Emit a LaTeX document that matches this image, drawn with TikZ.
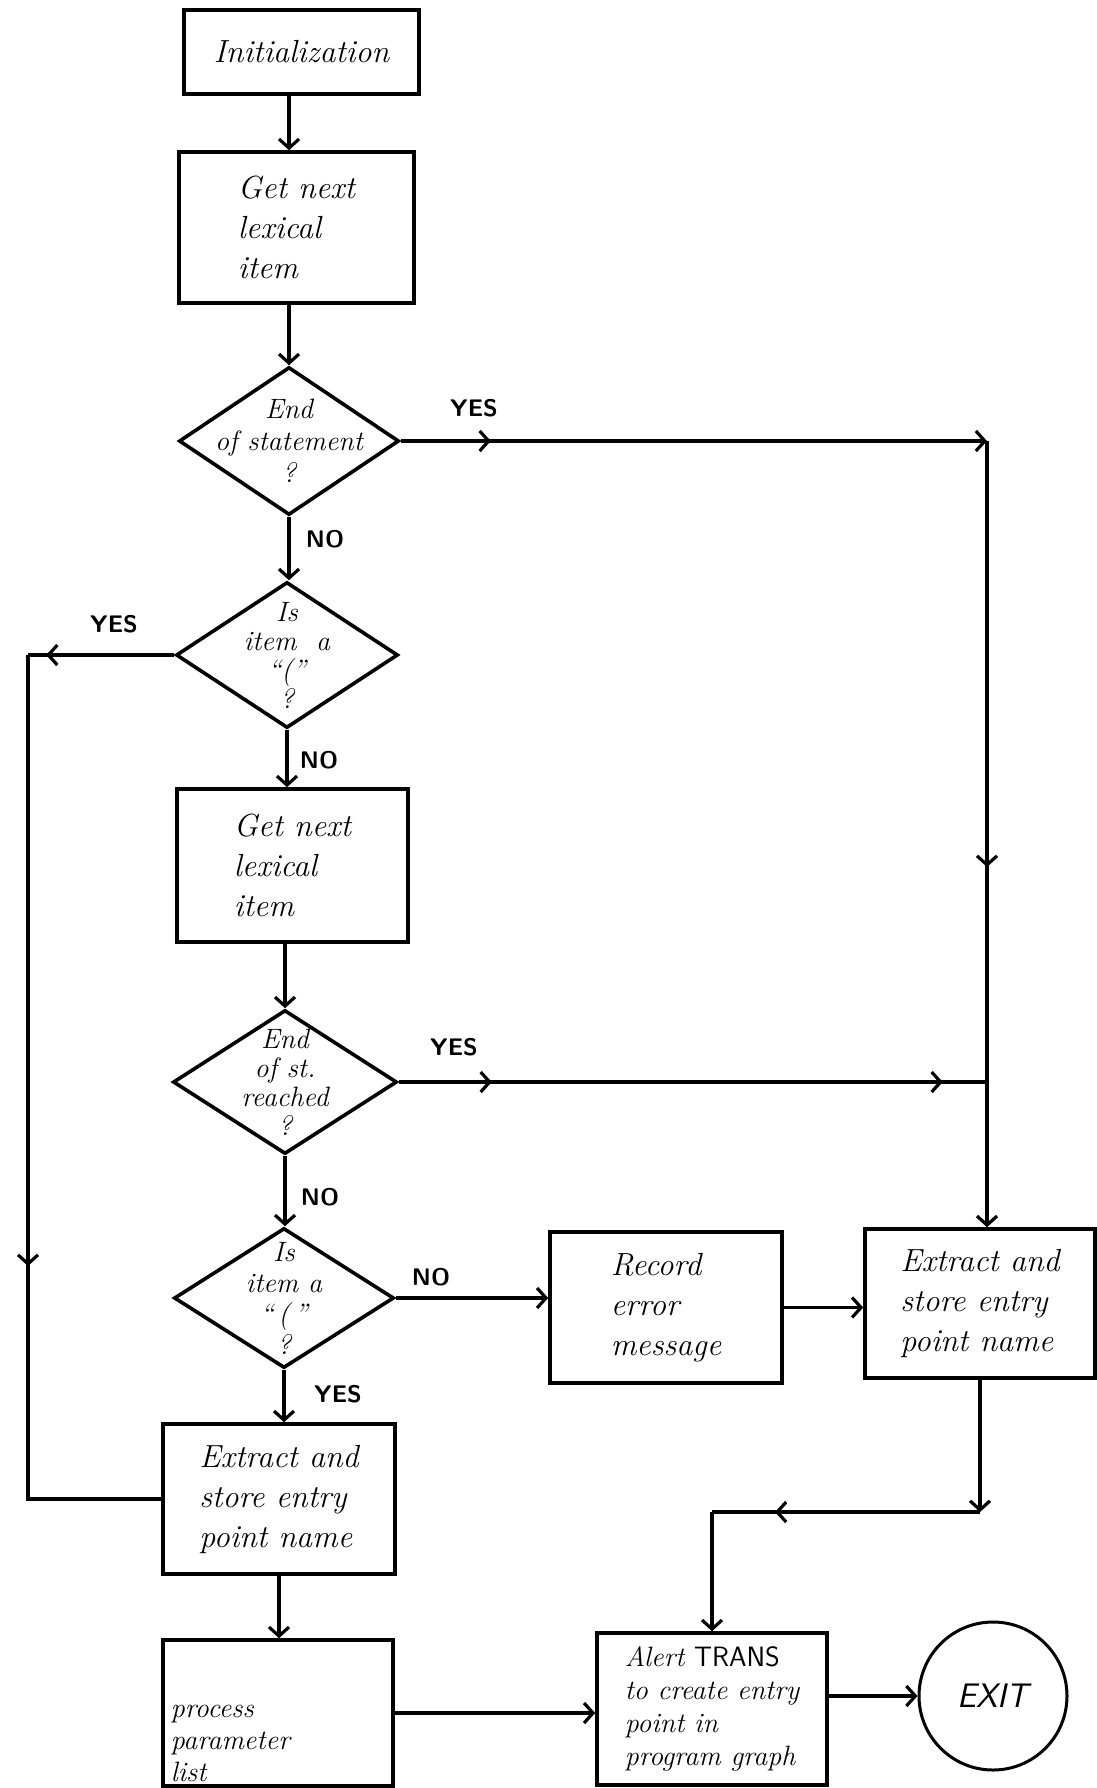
\documentclass[tikz,border=0pt]{standalone}
\usepackage{fontspec}
\usetikzlibrary{arrows.meta,decorations.markings,shapes.geometric,calc}
\begin{document}
\begin{tikzpicture}[x=1pt,y=-1pt,
  line width=3.2pt,
  >={Straight Barb[length=9pt,width=20pt]},
  box/.style={draw,rectangle,line width=3.6pt,inner sep=0pt,align=left,font=\fontsize{32}{40}\selectfont\itshape},
  dia/.style={draw,diamond,line width=3.6pt,inner sep=0pt},
  dtext/.style={align=center,font=\fontsize{28}{32}\selectfont\itshape},
  lbl/.style={font=\fontsize{24}{28}\selectfont\sffamily\bfseries},
  marks/.style={postaction={decorate},decoration={markings,#1}}
]
\useasboundingbox (0,0) rectangle (1096,1788);

% nodes
\node[box,minimum width=235pt,minimum height=84pt] (init) at (301.5,52) {Initialization};
\node[box,minimum width=235pt,minimum height=151pt] (get1) at (296.5,227.5) {Get next\\lexical\\item};
\node[dia,minimum width=220pt,minimum height=148pt] (d1) at (289,441) {};
\node[dtext] (d1t) at (d1) {End\\of statement\\?};
\node[dia,minimum width=222pt,minimum height=146pt] (d2) at (287,655) {};
\node[dtext,font=\fontsize{28}{29}\selectfont\itshape] (d2t) at (d2) {Is\\item~~a\\“(”\\?};
\node[box,minimum width=231pt,minimum height=153pt] (get2) at (292.5,865.5) {Get next\\lexical\\item};
\node[dia,minimum width=224pt,minimum height=144pt] (d3) at (285,1082) {};
\node[dtext,font=\fontsize{28}{29}\selectfont\itshape] (d3t) at (d3) {End\\of st.\\reached\\?};
\node[dia,minimum width=220pt,minimum height=140pt] (d4) at (284,1298) {};
\node[dtext,font=\fontsize{28}{31}\selectfont\itshape] (d4t) at (d4) {Is\\item a\\“\,(\,”\\?};
\node[box,minimum width=232pt,minimum height=151pt] (rec) at (666,1307.5) {Record\\error\\message};
\node[box,minimum width=230pt,minimum height=149pt] (ext2) at (980,1303.5) {Extract and\\store entry\\point name};
\node[box,minimum width=232pt,minimum height=150pt] (ext1) at (279,1499) {Extract and\\store entry\\point name};
\node[box,minimum width=230pt,minimum height=146pt] (proc) at (278,1713) {};
\node[anchor=south west,align=left,inner sep=0pt,font=\fontsize{28}{32}\selectfont\itshape] (proct) at ($(proc.south west)+(8,-4)$) {process\\parameter\\list};
\node[box,minimum width=230pt,minimum height=152pt,font=\fontsize{28}{33}\selectfont\itshape] (alert) at (712,1709) {Alert {\upshape\sffamily TRANS}\\to create entry\\point in\\program graph};
\node[draw,circle,line width=3pt,minimum size=148pt,inner sep=0pt,font=\fontsize{34}{40}\selectfont\sffamily\slshape] (exit) at (993,1696) {EXIT};

% helper coordinates
\coordinate (cR) at (987,441);
\coordinate (cL1) at (28,655);
\coordinate (j1) at (980,1512);
\coordinate (j2) at (712,1512);

% connectors
\draw[->] (init.south -| d1.north) -- (d1.north |- get1.north);
\draw[->] (get1.south -| d1.north) -- (d1.north);
\draw[->] (d1.south) -- (d1.south |- d2.north);
\draw[->,marks={mark=at position 90pt with {\arrow{>}}}] (d1.east) -- (cR);
\draw[->,marks={mark=at position 426pt with {\arrow{>}}}] (cR) -- (cR |- ext2.north);
\draw[marks={mark=at position 128pt with {\arrow{>}}}] (d2.west) -- (cL1);
\draw[marks={mark=at position 611pt with {\arrow{>}}}] (cL1) -- (cL1 |- ext1.west) -- (ext1.west);
\draw[->] (d2.south) -- (d2.south |- get2.north);
\draw[->] (get2.south -| d3.north) -- (d3.north);
\draw[marks={mark=at position 93pt with {\arrow{>}}, mark=at position 544pt with {\arrow{>}}}] (d3.east) -- (d3.east -| cR);
\draw[->] (d3.south) -- (d3.south |- d4.north);
\draw[->] (d4.east) -- (d4.east -| rec.west);
\draw[->] (rec.east) -- (rec.east -| ext2.west);
\draw[->] (d4.south) -- (d4.south |- ext1.north);
\draw[->] (ext1.south) -- (ext1.south |- proc.north);
\draw[->] (proc.east) -- (proc.east -| alert.west);
\draw[->] (alert.east |- exit.west) -- (exit.west);
\draw[->] (ext2.south) -- (j1);
\draw[marks={mark=at position 205pt with {\arrow{>}}}] (j1) -- (j2);
\draw[->] (j2) -- (alert.north);

% labels
\node[lbl] (l1) at (474,408) {YES};
\node[lbl] (l2) at (325,539) {NO};
\node[lbl] (l3) at (114,624) {YES};
\node[lbl] (l4) at (319,760) {NO};
\node[lbl] (l5) at (454,1047) {YES};
\node[lbl] (l6) at (320,1197) {NO};
\node[lbl] (l7) at (431,1277) {NO};
\node[lbl] (l8) at (338,1394) {YES};
\end{tikzpicture}
\end{document}
